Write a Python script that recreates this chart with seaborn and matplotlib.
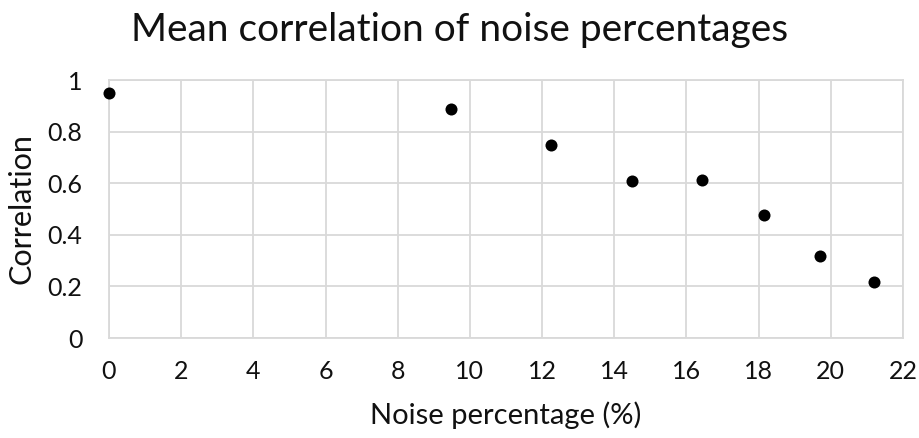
import matplotlib
matplotlib.use("Agg")
import matplotlib.pyplot as plt
import seaborn as sns
import pandas as pd

noise_pct = [0.0, 9.47, 12.24, 14.49, 16.43, 18.14, 19.70, 21.19]
correlation = [0.950, 0.888, 0.748, 0.609, 0.612, 0.477, 0.318, 0.217]
x_ticks = [0, 2, 4, 6, 8, 10, 12, 14, 16, 18, 20, 22]
y_ticks = [0, 0.2, 0.4, 0.6, 0.8, 1.0]
y_tick_labels = ["0", "0.2", "0.4", "0.6", "0.8", "1"]

df = pd.DataFrame({"noise": noise_pct, "corr": correlation})

sns.set_theme(style="white")
plt.rcParams['font.family'] = ['Lato', 'DejaVu Sans']

fig = plt.figure(figsize=(9.19, 4.38), dpi=100)
ax = fig.add_axes([0.1186, 0.2283, 0.864, 0.589])

sns.scatterplot(data=df, x="noise", y="corr", ax=ax, color="black",
                s=75, edgecolor="black", linewidth=0, zorder=3, clip_on=False)

ax.set_xlim(0, 22)
ax.set_ylim(0, 1)
ax.set_xticks(x_ticks)
ax.set_xticklabels([str(t) for t in x_ticks])
ax.set_yticks(y_ticks)
ax.set_yticklabels(y_tick_labels)
ax.grid(True, color="#d9d9d9", linewidth=1.3)
for sp in ax.spines.values():
    sp.set_visible(True)
    sp.set_color("#d9d9d9")
    sp.set_linewidth(1.3)
ax.tick_params(axis="both", length=0, labelsize=18, colors="#111111")
ax.tick_params(axis="x", pad=16)
ax.tick_params(axis="y", pad=19)
ax.set_xlabel("Noise percentage (%)", fontsize=21, color="#111111", labelpad=13)
ax.set_ylabel("Correlation", fontsize=22, color="#111111", labelpad=9)
fig.suptitle("Mean correlation of noise percentages", fontsize=28, color="#111111", y=0.972)

fig.savefig("out.png", dpi=100)
